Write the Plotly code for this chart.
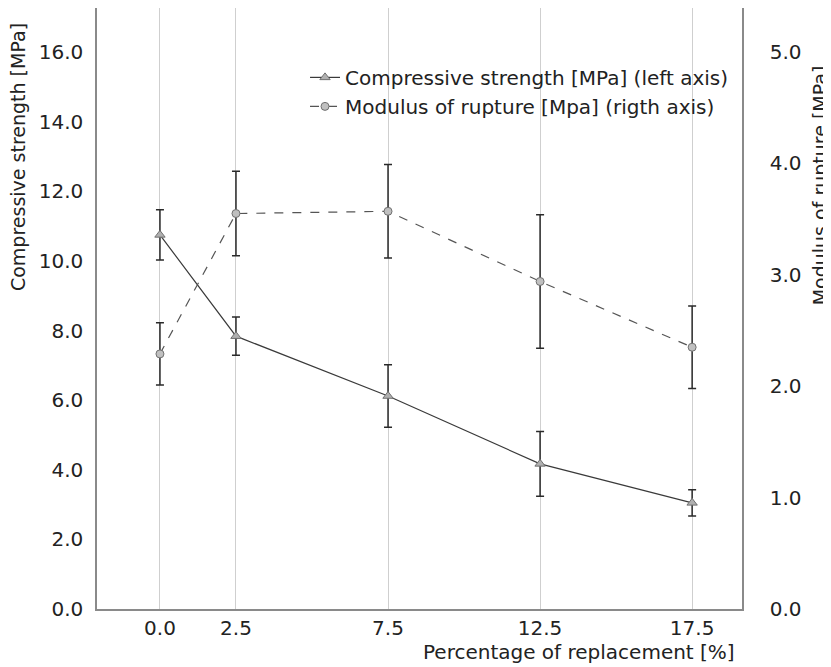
import plotly.graph_objects as go

replacement = [0.0, 2.5, 7.5, 12.5, 17.5]
tick_labels = ["0.0", "2.5", "7.5", "12.5", "17.5"]
compressive = [10.75, 7.84, 6.12, 4.17, 3.05]
compressive_err = [0.72, 0.55, 0.90, 0.93, 0.38]
rupture = [2.29, 3.55, 3.57, 2.94, 2.35]
rupture_err = [0.28, 0.38, 0.42, 0.60, 0.37]

FONT = "Verdana, DejaVu Sans, sans-serif"
FS = 20

fig = go.Figure()
fig.add_trace(go.Scatter(
    x=replacement, y=compressive, name="Compressive strength [MPa] (left axis)",
    mode="lines+markers",
    line=dict(color="#3a3a3a", width=1.2),
    marker=dict(symbol="triangle-up", size=9, color="#b0b0b0", line=dict(color="#707070", width=1)),
    error_y=dict(type="data", array=compressive_err, visible=True, color="#2a2a2a", thickness=1.5, width=4),
    yaxis="y",
))
fig.add_trace(go.Scatter(
    x=replacement, y=rupture, name="Modulus of rupture [Mpa] (rigth axis)",
    mode="lines+markers",
    line=dict(color="#555555", width=1.2, dash="dash"),
    marker=dict(symbol="circle", size=8, color="#c0c0c0", line=dict(color="#707070", width=1)),
    error_y=dict(type="data", array=rupture_err, visible=True, color="#2a2a2a", thickness=1.5, width=4),
    yaxis="y2",
))

fig.update_layout(
    width=823, height=659,
    margin=dict(l=89, r=89, t=0, b=58, autoexpand=False),
    paper_bgcolor="white", plot_bgcolor="white",
    font=dict(family=FONT, size=FS, color="#222222"),
    showlegend=True,
    legend=dict(x=0.3225, y=0.917, xanchor="left", yanchor="top", bgcolor="rgba(0,0,0,0)",
                font=dict(size=FS), itemwidth=30, tracegroupgap=2),
    xaxis=dict(
        range=[-2.07, 19.14], tickvals=replacement, ticktext=tick_labels,
        showgrid=True, gridcolor="#cfcfcf", gridwidth=1,
        showline=True, linecolor="#8a8a8a", linewidth=1.5, ticks="", zeroline=False,
        tickfont=dict(size=FS), automargin=False, ticklabelstandoff=0,
    ),
    yaxis=dict(
        range=[0, 17.27], dtick=2, tickformat=".1f", showgrid=False, zeroline=False,
        showline=True, linecolor="#8a8a8a", linewidth=1.5, ticks="",
        tickfont=dict(size=FS), automargin=False, ticklabelstandoff=8,
    ),
    yaxis2=dict(
        range=[0, 5.395], dtick=1, tickformat=".1f", overlaying="y", side="right",
        showgrid=False, zeroline=False, showline=True, linecolor="#8a8a8a", linewidth=1.5,
        ticks="", tickfont=dict(size=FS), automargin=False, ticklabelstandoff=22,
    ),
    annotations=[
        dict(text="Percentage of replacement [%]", xref="paper", yref="paper", x=0.992, y=-0.071,
             xanchor="right", yanchor="middle", showarrow=False, font=dict(size=FS)),
        dict(text="Compressive strength [MPa]", xref="paper", yref="paper", x=-0.1225, y=0.752,
             xanchor="center", yanchor="middle", textangle=-90, showarrow=False, font=dict(size=19)),
        dict(text="Modulus of rupture [MPa]", xref="paper", yref="paper", x=1.121, y=0.705,
             xanchor="center", yanchor="middle", textangle=-90, showarrow=False, font=dict(size=19)),
    ],
)

fig.write_html("out.html")
